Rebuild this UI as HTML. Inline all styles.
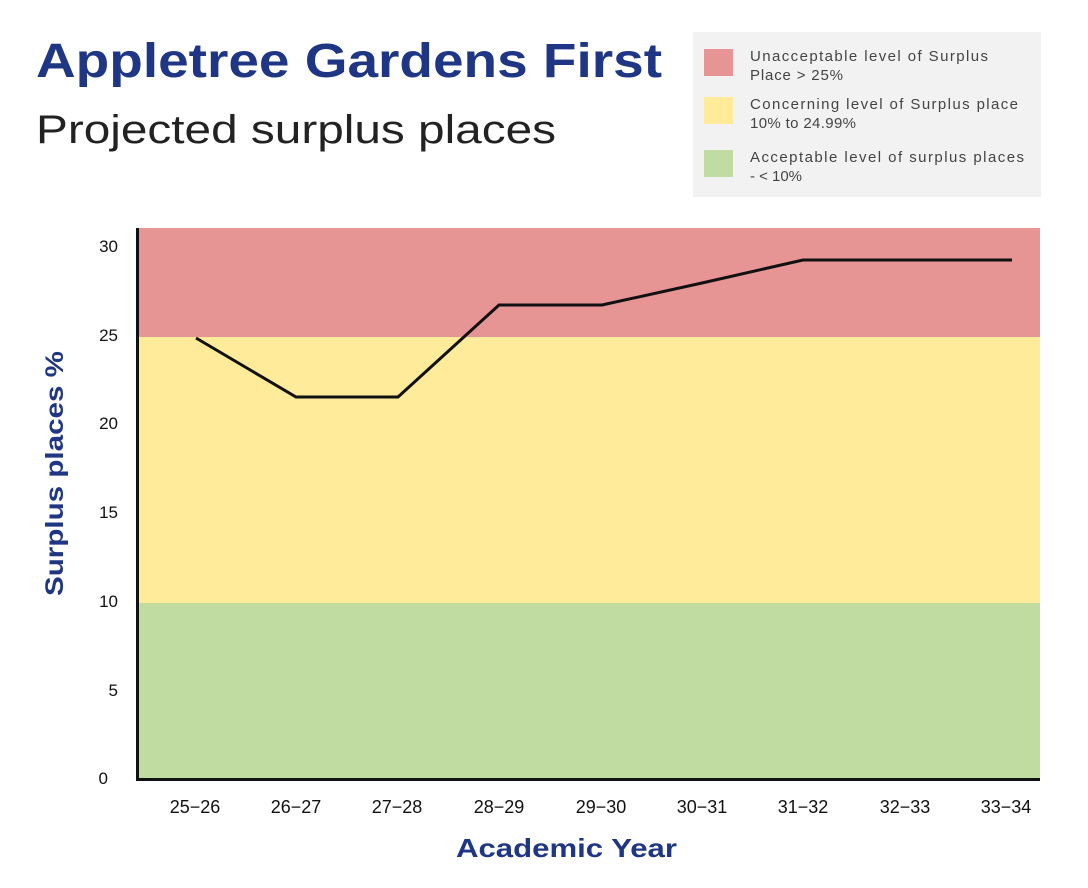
<!DOCTYPE html>
<html><head><meta charset="utf-8"><style>
body{margin:0;background:#fff;width:1088px;height:888px;overflow:hidden;font-family:"Liberation Sans",sans-serif;}
</style></head><body>
<svg width="1088" height="888" xmlns="http://www.w3.org/2000/svg" style="position:absolute;left:0;top:0">
<text x="36" y="77" font-family="Liberation Sans,sans-serif" font-weight="bold" font-size="48" fill="#1f3685" textLength="626" lengthAdjust="spacingAndGlyphs">Appletree Gardens First</text>
<text x="36" y="143" font-family="Liberation Sans,sans-serif" font-size="40" fill="#222" textLength="520" lengthAdjust="spacingAndGlyphs">Projected surplus places</text>
<rect x="693" y="32" width="348" height="165" fill="#f2f2f2"/>
<rect x="704" y="49" width="29" height="27" fill="#e69494"/>
<rect x="704" y="97" width="29" height="27" fill="#ffeb99"/>
<rect x="704" y="150" width="29" height="27" fill="#c0dca0"/>
<g font-family="Liberation Sans,sans-serif" font-size="15" fill="#444" lengthAdjust="spacingAndGlyphs">
<text x="750" y="61" textLength="238">Unacceptable level of Surplus</text><text x="750" y="80" textLength="93">Place &gt; 25%</text>
<text x="750" y="109" textLength="268">Concerning level of Surplus place</text><text x="750" y="128" textLength="106">10% to 24.99%</text>
<text x="750" y="162" textLength="274">Acceptable level of surplus places</text><text x="750" y="181" textLength="52">- &lt; 10%</text>
</g>
<rect x="137" y="228" width="903" height="109" fill="#e69494"/>
<rect x="137" y="337" width="903" height="266" fill="#ffeb99"/>
<rect x="137" y="603" width="903" height="177" fill="#c0dca0"/>
<line x1="137.5" y1="228" x2="137.5" y2="781" stroke="#111" stroke-width="3"/>
<line x1="136" y1="779.5" x2="1040" y2="779.5" stroke="#111" stroke-width="3"/>
<g font-family="Liberation Sans,sans-serif" font-size="17" fill="#111" text-anchor="end">
<text x="118" y="252">30</text><text x="118" y="341">25</text><text x="118" y="429">20</text>
<text x="118" y="518">15</text><text x="118" y="607">10</text><text x="118" y="696">5</text><text x="108" y="784">0</text>
</g>
<g font-family="Liberation Sans,sans-serif" font-size="18" fill="#111" text-anchor="middle">
<text x="195" y="813">25−26</text><text x="296" y="813">26−27</text><text x="397" y="813">27−28</text>
<text x="499" y="813">28−29</text><text x="601" y="813">29−30</text><text x="702" y="813">30−31</text>
<text x="803" y="813">31−32</text><text x="905" y="813">32−33</text><text x="1006" y="813">33−34</text>
</g>
<text x="456" y="857" font-family="Liberation Sans,sans-serif" font-weight="bold" font-size="26" fill="#1f3685" textLength="221" lengthAdjust="spacingAndGlyphs">Academic Year</text>
<text transform="translate(63,596) rotate(-90)" font-family="Liberation Sans,sans-serif" font-weight="bold" font-size="25" fill="#1f3685" textLength="245" lengthAdjust="spacingAndGlyphs">Surplus places %</text>
<polyline points="196,338 296,397 398,397 499,305 602,305 702,283 803,260 905,260 1012,260" fill="none" stroke="#111" stroke-width="3"/>
</svg>
</body></html>
